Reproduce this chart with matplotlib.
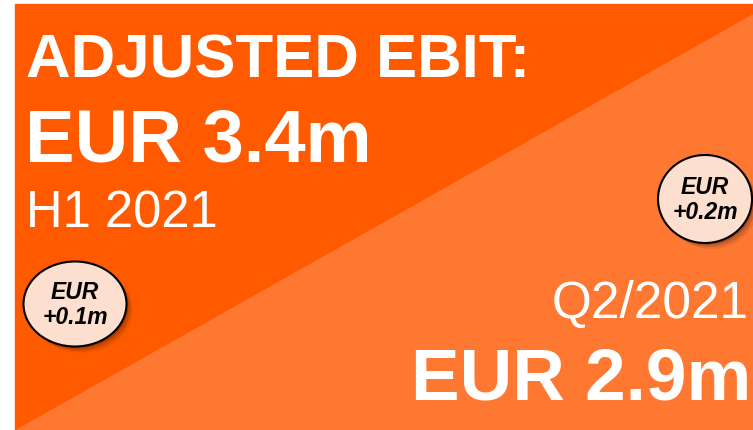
import matplotlib.pyplot as plt
from matplotlib.patches import Polygon, Ellipse, Rectangle

plt.rcParams['font.family'] = ['Liberation Sans', 'DejaVu Sans']

# texts / values on the slide
title = "ADJUSTED EBIT:"
h1_label = "H1 2021"
h1_value = "EUR 3.4m"
q2_label = "Q2/2021"
q2_value = "EUR 2.9m"
bubble_texts = ["EUR\n+0.1m", "EUR\n+0.2m"]

DARK = "#FF5A00"
LIGHT = "#FF7832"
PEACH = "#FDDFCF"

W, H = 753, 430
fig = plt.figure(figsize=(W / 100, H / 100), dpi=100)
ax = fig.add_axes([0, 0, 1, 1])
ax.set_xlim(0, W)
ax.set_ylim(H, 0)
ax.axis('off')

# background panel
ax.add_patch(Rectangle((15, 4), W - 15, H - 4, color=DARK, zorder=1))
ax.add_patch(Polygon([(17, H), (W, 15), (W, H)], closed=True, color=LIGHT, zorder=2))

# headline texts
ax.text(26, 78, title, color='white', fontsize=44.5, fontweight='bold', zorder=5)
ax.text(25, 162, h1_value, color='white', fontsize=53.5, fontweight='bold', zorder=5)
ax.text(26, 228, h1_label, color='white', fontsize=36.5, zorder=5)
ax.text(749, 318, q2_label, color='white', fontsize=37, ha='right', zorder=5)
ax.text(751, 400, q2_value, color='white', fontsize=52.5, fontweight='bold', ha='right', zorder=5)

# bubbles
bubbles = [(75, 304, 103, 85), (705, 199, 94, 88)]
for (cx, cy, bw, bh), txt in zip(bubbles, bubble_texts):
    for k, a in [(6, 0.08), (4, 0.12), (2, 0.18)]:
        ax.add_patch(Ellipse((cx + k, cy + k), bw, bh, color='black', alpha=a, lw=0, zorder=3))
    ax.add_patch(Ellipse((cx, cy), bw, bh, facecolor=PEACH, edgecolor='black', lw=1.5, zorder=4))
    ax.text(cx, cy + 1, txt, ha='center', va='center', fontsize=16.5, fontweight='bold',
            fontstyle='italic', linespacing=1.15, zorder=5)

fig.savefig('out.png', dpi=100)
